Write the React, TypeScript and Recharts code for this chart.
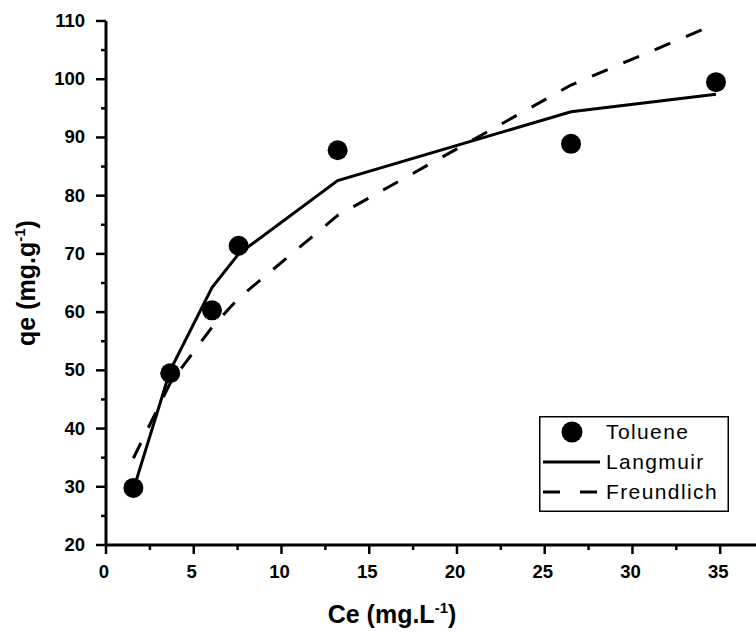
import { ComposedChart, Line, Scatter, XAxis, YAxis } from "recharts";

// adsorption isotherm of toluene: experimental points + two model fits
const CE = [1.56, 3.66, 6.04, 7.56, 13.2, 26.5, 34.76];
const QE = [29.8, 49.5, 60.3, 71.4, 87.8, 88.9, 99.5];
const LANGMUIR = [29.5, 50, 64.2, 70, 82.6, 94.4, 97.4];
const FREUNDLICH = [34.9, 47.8, 57.4, 62.4, 76.6, 99.0, 109.5];

const X_TICKS = [0, 2.5, 5, 7.5, 10, 12.5, 15, 17.5, 20, 22.5, 25, 27.5, 30, 32.5, 35];
const Y_TICKS = [20, 25, 30, 35, 40, 45, 50, 55, 60, 65, 70, 75, 80, 85, 90, 95, 100, 105, 110];
const LEGEND = ["Toluene", "Langmuir", "Freundlich"];

const points = CE.map((x, i) => ({ x, qe: QE[i] }));
const langmuir = CE.map((x, i) => ({ x, q: LANGMUIR[i] }));
const freundlich = CE.map((x, i) => ({ x, q: FREUNDLICH[i] }));

const FONT = "'Liberation Sans', Arial, sans-serif";

const XTick = ({ x, y, payload }: any) => {
  const major = payload.value % 5 === 0;
  return (
    <g>
      <line x1={x} x2={x} y1={y} y2={y + (major ? 9 : 5)} stroke="#000" strokeWidth={2.5} />
      {major && (
        <text x={x - 2} y={y + 33} textAnchor="middle" fontFamily={FONT} fontWeight="bold" fontSize={18.5} fill="#000">
          {payload.value}
        </text>
      )}
    </g>
  );
};

const YTick = ({ x, y, payload }: any) => {
  const major = payload.value % 10 === 0;
  return (
    <g>
      <line x1={x} x2={x - (major ? 10 : 5)} y1={y} y2={y} stroke="#000" strokeWidth={2.5} />
      {major && (
        <text x={x - 21} y={y + 6} textAnchor="end" fontFamily={FONT} fontWeight="bold" fontSize={18.5} fill="#000">
          {payload.value}
        </text>
      )}
    </g>
  );
};

const XTitle = ({ viewBox }: any) => (
  <text x={viewBox.x + 286} y={viewBox.y + 78} textAnchor="middle" fontFamily={FONT} fontWeight="bold" fontSize={25} fill="#000">
    Ce (mg.L
    <tspan fontSize={15} dy={-10}>-1</tspan>
    <tspan dy={10}>)</tspan>
  </text>
);

const YTitle = ({ viewBox }: any) => {
  const cy = viewBox.y + viewBox.height / 2;
  return (
    <text x={0} y={0} transform={`translate(35, ${cy}) rotate(-90)`} textAnchor="middle" fontFamily={FONT} fontWeight="bold" fontSize={25} fill="#000">
      qe (mg.g
      <tspan fontSize={15} dy={-10}>-1</tspan>
      <tspan dy={10}>)</tspan>
    </text>
  );
};

const LegendBox = () => (
  <svg width={190} height={96} style={{ position: "absolute", left: 539, top: 416, display: "block" }}>
    <rect x={0.75} y={0.75} width={188.5} height={94.5} fill="#fff" stroke="#000" strokeWidth={1.5} />
    <circle cx={33} cy={16} r={10.5} fill="#000" />
    <line x1={4} x2={61} y1={46} y2={46} stroke="#000" strokeWidth={3} />
    <line x1={4} x2={61} y1={76} y2={76} stroke="#000" strokeWidth={3} strokeDasharray="17 20" />
    {LEGEND.map((t, i) => (
      <text key={t} x={67} y={23 + i * 30} fontFamily={FONT} fontSize={21} letterSpacing={1.4} fill="#000">
        {t}
      </text>
    ))}
  </svg>
);

export default function App() {
  return (
    <div style={{ position: "fixed", left: 0, top: 0, width: 756, height: 632, overflow: "hidden", background: "#fff" }}>
      <ComposedChart width={756} height={632} margin={{ top: 21, right: 0, bottom: 0, left: 0 }}>
        <XAxis
          xAxisId="top"
          orientation="top"
          type="number"
          dataKey="x"
          domain={[0, 37.04]}
          height={0}
          tick={false}
          tickLine={false}
          axisLine={{ stroke: "#000", strokeWidth: 3 }}
        />
        <XAxis
          type="number"
          dataKey="x"
          domain={[0, 37.04]}
          ticks={X_TICKS}
          height={87}
          tickSize={0}
          tickMargin={0}
          tickLine={false}
          tick={<XTick />}
          axisLine={{ stroke: "#000", strokeWidth: 3 }}
          label={<XTitle />}
        />
        <YAxis
          type="number"
          domain={[20, 110]}
          ticks={Y_TICKS}
          width={106}
          tickSize={0}
          tickMargin={0}
          tickLine={false}
          tick={<YTick />}
          axisLine={{ stroke: "#000", strokeWidth: 3 }}
          label={<YTitle />}
        />
        <Line
          data={langmuir}
          dataKey="q"
          type="linear"
          stroke="#000"
          strokeWidth={3}
          dot={false}
          isAnimationActive={false}
        />
        <Line
          data={freundlich}
          dataKey="q"
          type="linear"
          stroke="#000"
          strokeWidth={3}
          strokeDasharray="17 17"
          dot={false}
          isAnimationActive={false}
        />
        <Scatter data={points} dataKey="qe" fill="#000" shape={(p: any) => <circle cx={p.cx} cy={p.cy} r={10} fill="#000" />} isAnimationActive={false} />
      </ComposedChart>
      <LegendBox />
    </div>
  );
}
